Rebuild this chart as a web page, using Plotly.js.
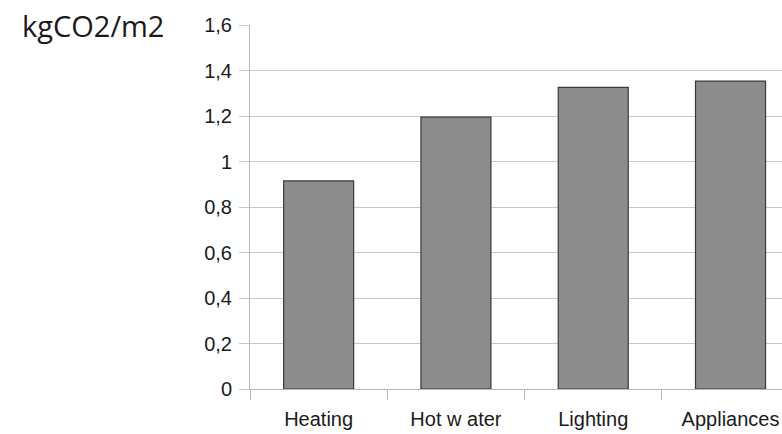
<!DOCTYPE html>
<html>
<head>
<meta charset="utf-8">
<script src="https://cdn.plot.ly/plotly-3.0.1.min.js"></script>
<style>html,body{margin:0;padding:0;background:#fff;overflow:hidden;}</style>
</head>
<body>
<div id="chart" style="width:782px;height:434px;"></div>
<script>
const categories = ["Heating", "Hot w ater", "Lighting", "Appliances"];
const values = [0.915, 1.195, 1.326, 1.354];
const yTickVals = [0, 0.2, 0.4, 0.6, 0.8, 1, 1.2, 1.4, 1.6];
const yTickText = ["0", "0,2", "0,4", "0,6", "0,8", "1", "1,2", "1,4", "1,6"];
const unitLabel = "kgCO2/m2";

const trace = {
  type: "bar",
  x: categories,
  y: values,
  width: 0.51,
  marker: { color: "#8c8c8c", line: { color: "#3a3a3a", width: 1.2 } },
  hoverinfo: "none"
};

const layout = {
  width: 782,
  height: 434,
  margin: { l: 250, r: 0, t: 25, b: 45, pad: 0 },
  paper_bgcolor: "#ffffff",
  plot_bgcolor: "#ffffff",
  showlegend: false,
  bargap: 0.49,
  font: { family: "Liberation Sans, Arial, sans-serif", size: 20, color: "#1a1a1a" },
  xaxis: {
    type: "category",
    range: [-0.5, 3.375],
    showline: true,
    linecolor: "#b8b8b8",
    linewidth: 1,
    showgrid: false,
    ticks: "outside",
    tickson: "boundaries",
    ticklen: 10,
    tickcolor: "#b8b8b8",
    tickwidth: 1,
    zeroline: false,
    ticklabelstandoff: 12,
    tickfont: { family: "Liberation Sans, Arial, sans-serif", size: 20, color: "#1a1a1a" }
  },
  yaxis: {
    range: [0, 1.6005],
    tickvals: yTickVals,
    ticktext: yTickText,
    showline: true,
    linecolor: "#b8b8b8",
    linewidth: 1,
    showgrid: true,
    gridcolor: "#c8c8c8",
    gridwidth: 1,
    ticks: "outside",
    ticklen: 10,
    tickcolor: "#c8c8c8",
    tickwidth: 1,
    zeroline: false,
    ticklabelstandoff: 3,
    tickfont: { family: "Liberation Sans, Arial, sans-serif", size: 20, color: "#1a1a1a" }
  },
  annotations: [{
    text: unitLabel,
    xref: "paper", yref: "paper",
    x: -250/532, y: 1,
    xanchor: "left", yanchor: "middle",
    xshift: 20, yshift: 0,
    showarrow: false,
    font: { family: "Open Sans, Noto Sans, sans-serif", size: 29, color: "#1a1a1a" }
  }]
};

Plotly.newPlot("chart", [trace], layout, { staticPlot: true, displayModeBar: false });
</script>
</body>
</html>
